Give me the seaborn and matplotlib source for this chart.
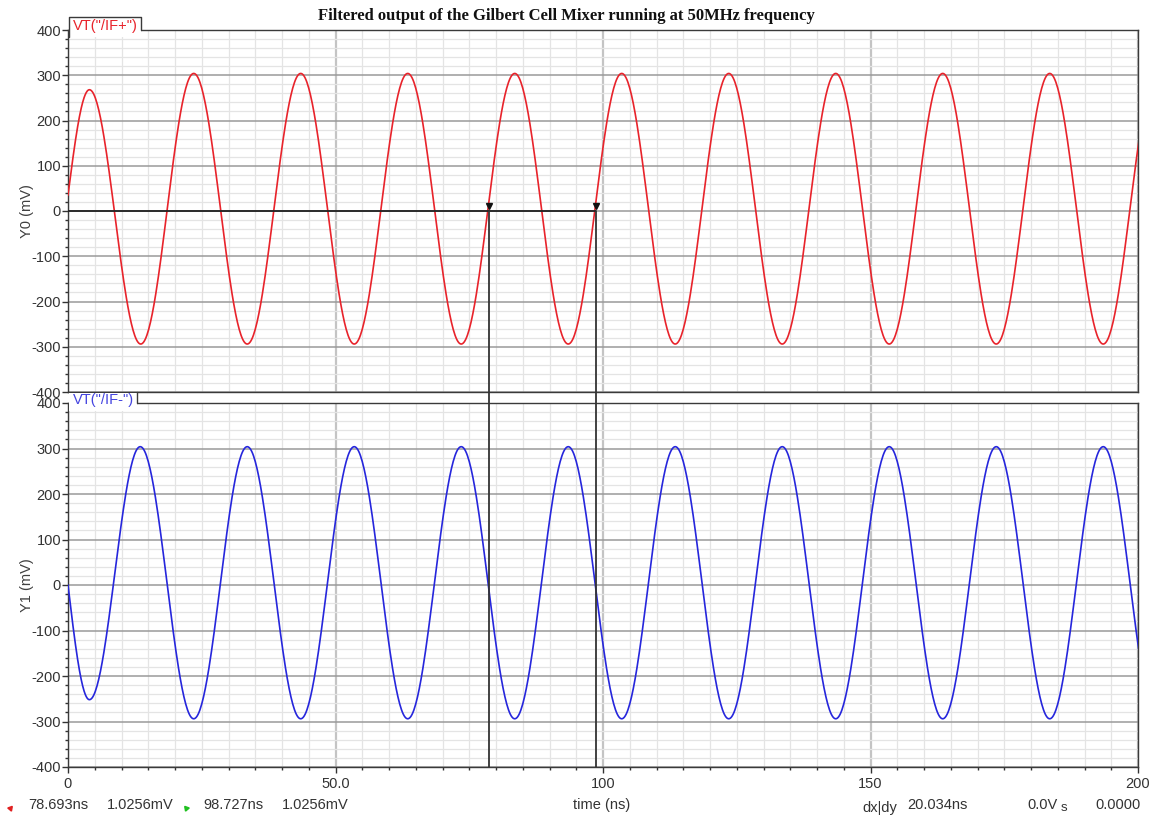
import numpy as np
import pandas as pd
import matplotlib
matplotlib.use("Agg")
import matplotlib.pyplot as plt
import seaborn as sns
from matplotlib.lines import Line2D
from matplotlib.patches import Rectangle

# ---- data (time in ns, voltage in mV) ----
# turning points of the filtered IF+ output (first point = start of trace, last one just beyond 200 ns)
ifp_t = [0.0, 4.0, 13.6, 23.5, 33.5, 43.5, 53.5, 63.5, 73.5, 83.5, 93.5, 103.5,
         113.5, 123.5, 133.5, 143.5, 153.5, 163.5, 173.5, 183.5, 193.5, 203.5]
ifp_v = [35, 268, -294, 304, -294, 304, -294, 304, -294, 304, -294, 304,
         -294, 304, -294, 304, -294, 304, -294, 304, -294, 304]
# turning points of the filtered IF- output
ifm_t = [0.0, 4.0, 13.5, 23.5, 33.5, 43.5, 53.5, 63.5, 73.5, 83.5, 93.5, 103.5,
         113.5, 123.5, 133.5, 143.5, 153.5, 163.5, 173.5, 183.5, 193.5, 203.5]
ifm_v = [0, -252, 304, -294, 304, -294, 304, -294, 304, -294, 304, -294,
         304, -294, 304, -294, 304, -294, 304, -294, 304, -294]
cursor_t = [78.693, 98.727]
cursor_v = [1.0256, 1.0256]
x_ticks = [0, 50, 100, 150, 200]
x_ticklabels = ["0", "50.0", "100", "150", "200"]
y_ticks = [-400, -300, -200, -100, 0, 100, 200, 300, 400]
title = "Filtered output of the Gilbert Cell Mixer running at 50MHz frequency"


def trace(tp, vp, n=60):
    """Smooth waveform through the turning points (half-cosine between extrema)."""
    ts, vs = [], []
    for i in range(len(tp) - 1):
        s = np.linspace(0, 1, n, endpoint=False)
        if i == 0:
            shape = np.sin(np.pi * s / 2)
        else:
            shape = (1 - np.cos(np.pi * s)) / 2
        ts.append(tp[i] + (tp[i + 1] - tp[i]) * s)
        vs.append(vp[i] + (vp[i + 1] - vp[i]) * shape)
    ts.append([tp[-1]]); vs.append([vp[-1]])
    return np.concatenate(ts), np.concatenate(vs)


tp, vp = trace(ifp_t, ifp_v)
tm, vm = trace(ifm_t, ifm_v)
df_p = pd.DataFrame({"time": tp, "mV": vp})
df_m = pd.DataFrame({"time": tm, "mV": vm})

sns.set_theme(style="white")
plt.rcParams["font.family"] = ["Liberation Sans", "DejaVu Sans"]
plt.rcParams["axes.unicode_minus"] = False

W, H = 1158, 818
fig = plt.figure(figsize=(W / 100, H / 100), dpi=100)
fig.patch.set_facecolor("white")

ax0 = fig.add_axes([68 / W, 1 - 392 / H, 1070 / W, 362 / H])
ax1 = fig.add_axes([68 / W, 1 - 767 / H, 1070 / W, 364 / H])

RED = "#e8232b"
BLUE = "#2626dc"
TXT = "#333333"

for ax, df, col in [(ax0, df_p, RED), (ax1, df_m, BLUE)]:
    ax.set_xlim(0, 200)
    ax.set_ylim(-400, 400)
    ax.set_xticks(x_ticks)
    ax.set_xticks(np.arange(0, 201, 5), minor=True)
    ax.set_yticks(y_ticks)
    ax.set_yticks(np.arange(-400, 401, 20), minor=True)
    ax.grid(which="minor", color="#e4e4e4", lw=0.9, zorder=0)
    ax.grid(which="major", axis="y", color="#9a9a9a", lw=1.1, zorder=0)
    ax.grid(which="major", axis="x", color="#c4c4c4", lw=1.6, zorder=0)
    ax.set_axisbelow(True)
    sns.lineplot(data=df, x="time", y="mV", ax=ax, color=col, lw=1.2,
                 estimator=None, sort=False, zorder=3)
    for sp in ax.spines.values():
        sp.set_color("#3a3a3a")
        sp.set_linewidth(1.0)
    ax.tick_params(axis="y", which="major", length=4, width=1, color="#333333",
                   labelsize=10.5, labelcolor=TXT, pad=1, left=True)
    ax.tick_params(axis="y", which="minor", length=2.5, width=1, color="#333333", left=True)
    ax.set_xlabel("")
    ax.set_ylabel("")

ax0.tick_params(axis="x", which="both", length=0, labelbottom=False)
ax1.set_xticklabels(x_ticklabels)
ax1.tick_params(axis="x", which="major", length=4, width=1, color="#333333",
                labelsize=10.5, labelcolor=TXT, pad=3, bottom=True)
ax1.tick_params(axis="x", which="minor", length=2.5, width=1, color="#333333", bottom=True)

ax0.set_ylabel("Y0 (mV)", fontsize=10.5, color="#404040")
ax1.set_ylabel("Y1 (mV)", fontsize=10.5, color="#404040")
ax0.yaxis.set_label_coords(-0.032, 0.5)
ax1.yaxis.set_label_coords(-0.032, 0.5)

# cursors
ax0.plot([0, cursor_t[1]], [0, 0], color="#222222", lw=1.3, zorder=4)
ax0.vlines(cursor_t, -425, cursor_v[0], color="#333333", lw=1.3, zorder=4, clip_on=False)
ax1.vlines(cursor_t, -400, 400, color="#333333", lw=1.3, zorder=4)
ax0.plot(cursor_t, [12, 12], ls="none", marker="v", ms=4, color="#111111", zorder=5)


def fx(px):
    return px / W


def fy(py):
    return 1 - py / H


# title
fig.text(fx(566), fy(16), title, ha="center", va="center", fontsize=12,
         fontweight="bold", family=["Liberation Serif", "DejaVu Serif"], color="#111111")

# trace tabs
fig.add_artist(Rectangle((fx(69), fy(37)), fx(141) - fx(69), fy(17) - fy(37),
                         transform=fig.transFigure, facecolor="white", edgecolor="none", zorder=6))
fig.add_artist(Line2D([fx(68.5), fx(68.5), fx(141), fx(141)], [fy(37), fy(17), fy(17), fy(30)],
                      transform=fig.transFigure, color="#3a3a3a", lw=1.0, zorder=7))
fig.text(fx(73), fy(26), 'VT("/IF+")', color=RED, fontsize=10.5, va="center", ha="left", zorder=8)

fig.add_artist(Rectangle((fx(69), fy(411)), fx(137) - fx(69), fy(393) - fy(411),
                         transform=fig.transFigure, facecolor="white", edgecolor="none", zorder=6))
fig.add_artist(Line2D([fx(137), fx(137)], [fy(392), fy(403)],
                      transform=fig.transFigure, color="#3a3a3a", lw=1.0, zorder=7))
fig.text(fx(73), fy(400), 'VT("/IF-")', color="#4444e0", fontsize=10.5, va="center", ha="left", zorder=8)

# bottom readout line
yb = fy(805)
fs = 10.5
fig.add_artist(Line2D([fx(10)], [fy(808)], transform=fig.transFigure, marker=(3, 0, 200),
                      ms=4, color="#e02020", ls="none"))
fig.add_artist(Line2D([fx(186)], [fy(808)], transform=fig.transFigure, marker=(3, 0, 160),
                      ms=4, color="#20c020", ls="none"))
fig.text(fx(28), yb, f"{cursor_t[0]:.3f}ns", fontsize=fs, color=TXT, va="center")
fig.text(fx(107), yb, f"{cursor_v[0]:.4f}mV", fontsize=fs, color=TXT, va="center")
fig.text(fx(203), yb, f"{cursor_t[1]:.3f}ns", fontsize=fs, color=TXT, va="center")
fig.text(fx(282), yb, f"{cursor_v[1]:.4f}mV", fontsize=fs, color=TXT, va="center")
fig.text(fx(602), yb, "time (ns)", fontsize=fs, color=TXT, va="center", ha="center")
fig.text(fx(862), fy(808), "dx|dy", fontsize=fs, color=TXT, va="center")
fig.text(fx(907), yb, f"{cursor_t[1] - cursor_t[0]:.3f}ns", fontsize=fs, color=TXT, va="center")
fig.text(fx(1027), yb, "0.0V", fontsize=fs, color=TXT, va="center")
fig.text(fx(1061), fy(808), "s", fontsize=9.5, color=TXT, va="center")
fig.text(fx(1095), yb, "0.0000", fontsize=fs, color=TXT, va="center")

fig.savefig("out.png", dpi=100, facecolor="white")
